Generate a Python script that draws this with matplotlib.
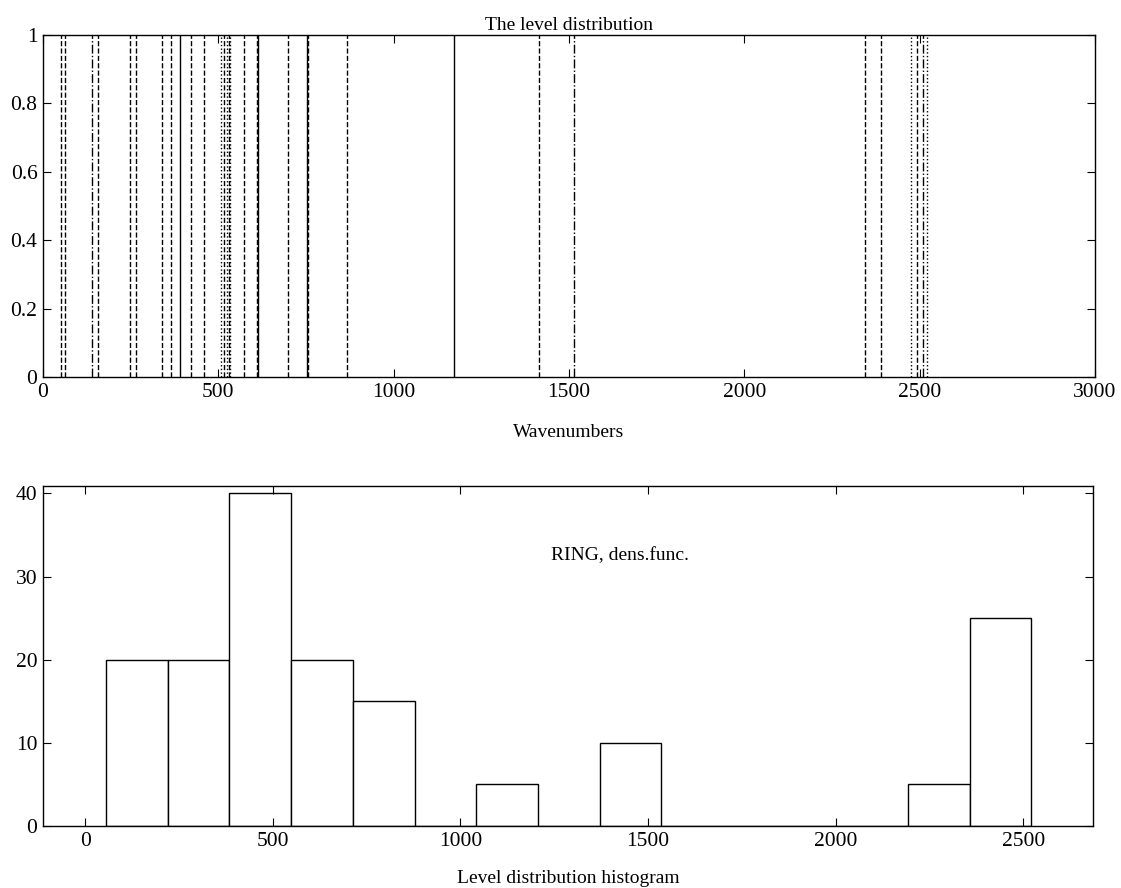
import matplotlib
matplotlib.use("Agg")
import matplotlib.pyplot as plt
import numpy as np

# wavenumbers of the levels (top panel)
wavenumbers = [50, 62, 140, 157, 248, 264, 338, 365, 391, 421, 460, 508, 517,
               524, 529, 534, 572, 610, 614, 699, 753, 757, 866, 1172, 1413,
               1514, 2345, 2391, 2475, 2492, 2509, 2521]
line_styles = ['--', '--', '-.', '--', '--', '--', '--', '--', '-', '--', '--',
               ':', '--', ':', '--', ':', '--', '--', '-', '--', '-', '--',
               '--', '-', '--', '-.', '--', '--', ':', '--', '-.', ':']

# histogram (bottom panel)
hist_edges = [56, 220.4, 384.8, 549.2, 713.6, 878, 1042.4, 1206.8, 1371.2,
              1535.6, 1700, 1864.4, 2028.8, 2193.2, 2357.6, 2522]
hist_counts = [20, 20, 40, 20, 15, 0, 5, 0, 10, 0, 0, 0, 0, 5, 25]

plt.rcParams['font.family'] = ['Liberation Serif', 'DejaVu Serif']

fig = plt.figure(figsize=(11.21, 8.88), dpi=100)
ax1 = fig.add_axes([0.0384, 0.5755, 0.9384, 0.385])
ax2 = fig.add_axes([0.0384, 0.0698, 0.9366, 0.3829])

for w, ls in zip(wavenumbers, line_styles):
    ax1.plot([w, w], [0, 1], color='black', linestyle=ls, linewidth=1.0)

ax1.set_xlim(0, 3000)
ax1.set_ylim(0, 1)
ax1.set_xticks(np.arange(0, 3001, 500))
ax1.set_yticks([0, 0.2, 0.4, 0.6, 0.8, 1])
ax1.set_yticklabels(['0', '0.2', '0.4', '0.6', '0.8', '1'])
ax1.set_title('The level distribution', fontsize=14, pad=4)
ax1.set_xlabel('Wavenumbers', fontsize=14, labelpad=16)

lefts = hist_edges[:-1]
widths = np.diff(hist_edges)
ax2.bar(lefts, hist_counts, width=widths, align='edge', facecolor='white',
        edgecolor='black', linewidth=1.0)
ax2.set_xlim(-112, 2686)
ax2.set_ylim(0, 40.9)
ax2.set_xticks(np.arange(0, 2501, 500))
ax2.set_yticks(np.arange(0, 41, 10))
ax2.text(1425, 32.5, 'RING, dens.func.', ha='center', va='center', fontsize=14)
ax2.set_xlabel('Level distribution histogram', fontsize=14, labelpad=14)

for ax in (ax1, ax2):
    ax.tick_params(direction='in', top=True, right=True, length=6, width=0.8,
                   labelsize=15.5, pad=4)
    for s in ax.spines.values():
        s.set_linewidth(1.0)

fig.savefig('out.png', dpi=100)
